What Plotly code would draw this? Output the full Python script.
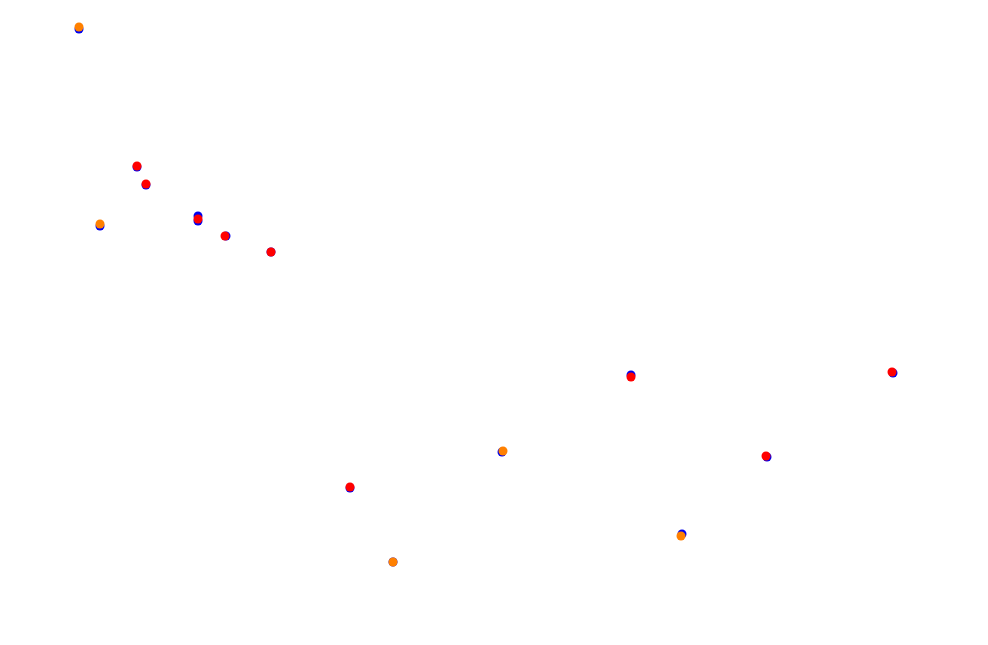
import plotly.graph_objects as go

# Blue series (all points, drawn underneath)
blue_x = [79, 100, 137, 146, 198, 198, 226, 271, 350, 393, 502, 631, 682, 767, 893]
blue_y = [29, 226, 167, 185, 216, 221, 236, 252, 488, 562, 452, 375, 534, 457, 373]

# Red series
red_x = [137, 146, 198, 225, 271, 350, 631, 766, 892]
red_y = [166, 184, 219, 236, 252, 487, 377, 456, 372]

# Orange series
orange_x = [79, 100, 393, 503, 681]
orange_y = [27, 224, 562, 451, 536]

fig = go.Figure()
fig.add_trace(go.Scatter(x=blue_x, y=blue_y, mode="markers",
                         marker=dict(color="#0000ee", size=9), name="blue"))
fig.add_trace(go.Scatter(x=red_x, y=red_y, mode="markers",
                         marker=dict(color="#ff0000", size=9), name="red"))
fig.add_trace(go.Scatter(x=orange_x, y=orange_y, mode="markers",
                         marker=dict(color="#ff8000", size=9), name="orange"))

fig.update_layout(
    width=988, height=645,
    margin=dict(l=0, r=0, t=0, b=0),
    paper_bgcolor="white", plot_bgcolor="white",
    showlegend=False,
    xaxis=dict(range=[8, 996], visible=False),
    yaxis=dict(range=[653, 8], visible=False),
)
fig.write_html("out.html")
